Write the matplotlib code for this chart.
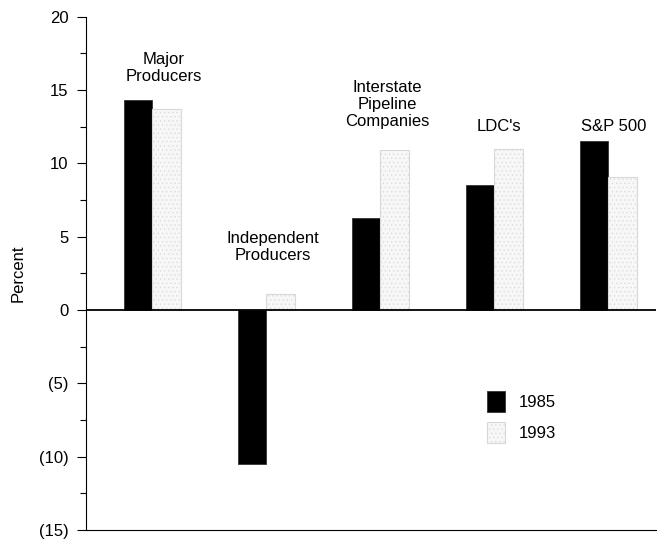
import numpy as np
import matplotlib
matplotlib.use("Agg")
import matplotlib.pyplot as plt

plt.rcParams['font.family'] = ['Liberation Sans', 'DejaVu Sans']
plt.rcParams['hatch.linewidth'] = 0.4

# Data
categories = ["Major\nProducers", "Independent\nProducers",
              "Interstate\nPipeline\nCompanies", "LDC's", "S&P 500"]
vals_1985 = [14.3, -10.5, 6.3, 8.5, 11.5]
vals_1993 = [13.7, 1.1, 10.9, 11.0, 9.1]
years = ["1985", "1993"]
yticks = [20, 15, 10, 5, 0, -5, -10, -15]
ytick_labels = ["20", "15", "10", "5", "0", "(5)", "(10)", "(15)"]

# where the category captions sit
label_y = [16.5, 4.3, 14.0, 12.5, 12.5]
label_dx = [0.1, 0.06, 0.06, 0.04, 0.05]

fig = plt.figure(figsize=(6.57, 5.42), dpi=100)
ax = fig.add_axes([0.1309, 0.0221, 0.8676, 0.9471])

x = np.arange(len(categories))
w = 0.25
ax.bar(x - w / 2, vals_1985, w, color="black", edgecolor="#333333",
       linewidth=0.6, label=years[0])
ax.bar(x + w / 2, vals_1993, w, color="#f7f7f7", edgecolor="#d8d8d8",
       linewidth=0.8, hatch="....", label=years[1])

for xi, lab, ly, dx in zip(x, categories, label_y, label_dx):
    ax.text(xi + dx, ly, lab, ha="center", va="center", fontsize=12,
            linespacing=1.15)

ax.axhline(0, color="black", linewidth=1.3)

ax.set_xlim(-0.582, 4.42)
ax.set_ylim(-15, 20)
ax.set_xticks([])
ax.set_yticks(yticks)
ax.set_yticklabels(ytick_labels, fontsize=12)
ax.set_yticks(np.arange(-12.5, 20, 5), minor=True)
ax.tick_params(axis="y", which="major", length=6.5, width=0.8, pad=6)
ax.tick_params(axis="y", which="minor", length=4.3, width=0.8)

for s in ["top", "right"]:
    ax.spines[s].set_visible(False)
ax.spines["left"].set_linewidth(0.8)
ax.spines["bottom"].set_linewidth(0.8)

ax.set_ylabel("Percent", fontsize=12)
ax.yaxis.set_label_coords(-0.106, 0.5)

ax.legend(loc="upper left", bbox_to_anchor=(487 / 657, 1 - 391 / 542),
          bbox_transform=fig.transFigure, frameon=False, fontsize=12,
          borderpad=0, borderaxespad=0, handlelength=1.1, handleheight=1.6,
          handletextpad=0.8, labelspacing=0.55)

fig.savefig("out.png", dpi=100)
